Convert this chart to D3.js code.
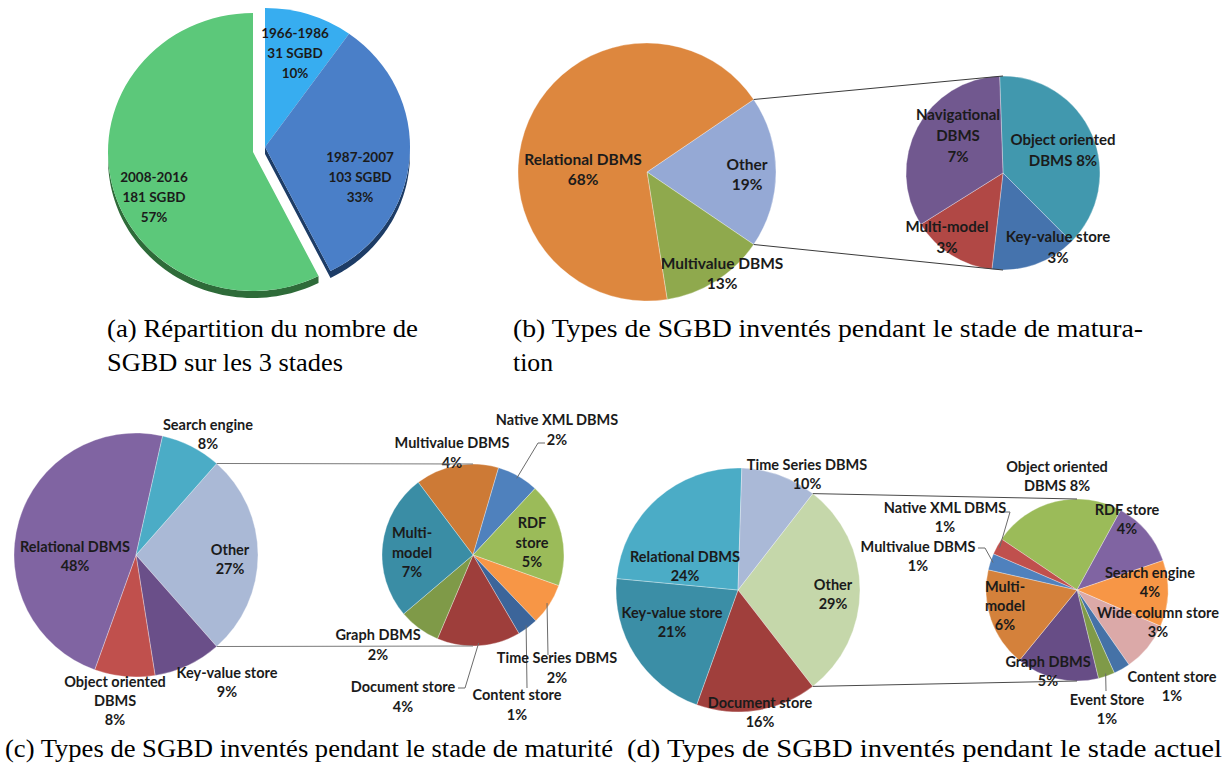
<!DOCTYPE html>
<html>
<head>
<meta charset="utf-8">
<script src="https://cdn.jsdelivr.net/npm/d3@7"></script>
<style>
  body { margin: 0; background: #fff; }
  svg { display: block; }
  .lbl { font-family: Lato, "Open Sans", sans-serif; font-weight: 700; fill: #1b1b1b; }
</style>
</head>
<body>
<svg id="fig" width="1226" height="769"></svg>
<script>
// ---------- data ----------
// (a) number of DBMS per stage
const stageNames = ["1966-1986", "1987-2007", "2008-2016"];
const stageCounts = [31, 103, 181];

// (b) maturation stage (percent of all DBMS of the stage)
const maturationNames = ["Other", "Multivalue DBMS", "Relational DBMS"];
const maturationShares = [19, 13, 68];
const maturationOtherNames = ["Object oriented\nDBMS", "Key-value store", "Multi-model", "Navigational\nDBMS"];
const maturationOtherShares = [8, 3, 3, 7];

// (c) maturity stage
const maturityNames = ["Other", "Key-value store", "Object oriented\nDBMS", "Relational DBMS", "Search engine"];
const maturityShares = [27, 9, 8, 48, 8];
const maturityOtherNames = ["Multivalue DBMS", "Native XML DBMS", "RDF\nstore", "Time Series DBMS",
                            "Content store", "Document store", "Graph DBMS", "Multi-\nmodel"];
const maturityOtherShares = [4, 2, 5, 2, 1, 4, 2, 7];

// (d) current stage
const currentNames = ["Other", "Document store", "Key-value store", "Relational DBMS", "Time Series DBMS"];
const currentShares = [29, 16, 21, 24, 10];
const currentOtherNames = ["Object oriented\nDBMS", "RDF store", "Search engine", "Wide column store",
                           "Content store", "Event Store", "Graph DBMS", "Multi-\nmodel",
                           "Multivalue DBMS", "Native XML DBMS"];
const currentOtherShares = [8, 4, 4, 3, 1, 1, 5, 6, 1, 1];

// sub-figure captions
const captionLines = [
  "(a) Répartition du nombre de",
  "SGBD sur les 3 stades",
  "(b) Types de SGBD inventés pendant le stade de matura-",
  "tion",
  "(c) Types de SGBD inventés pendant le stade de maturité",
  "(d) Types de SGBD inventés pendant le stade actuel"
];

// ---------- styles ----------
const stageColors = ["#37adf0", "#4a7fc8", "#5cc87a"];
const stageSideColors = ["#1f5f86", "#1d3c66", "#2e6b39"];
const maturationColors = ["#95a9d5", "#8fa94d", "#dd873e"];
const maturationOtherColors = ["#4198ae", "#4573ad", "#b14845", "#71588f"];
const maturityColors = ["#aab9d6", "#6a4f89", "#c0504d", "#8064a2", "#4bacc6"];
const maturityOtherColors = ["#cd7a36", "#4f81bd", "#9bbb59", "#f79646", "#3c659a", "#9e3e3b", "#7f9a48", "#3a8da5"];
const currentColors = ["#c5d7aa", "#a03f3c", "#3b8ea6", "#4bacc6", "#aab9d7"];
const currentOtherColors = ["#9bbb59", "#8064a2", "#f79646", "#dba9a8", "#4572a7", "#7f9a48",
                            "#674d86", "#d4813b", "#4f81bd", "#c0504d"];

const svg = d3.select("#fig");
const deg = Math.PI / 180;

// ---------- (a) exploded 3D pie ----------
(function drawStages() {
  const cx = 253, cy = 152, rx = 145, ry = 139, depth = 7;
  const explode = [12, -5];
  const total = d3.sum(stageCounts);
  const arcs = d3.pie().sort(null).value(d => d)(stageCounts);
  const arc = d3.arc().innerRadius(0).outerRadius(rx);
  const k = ry / rx;
  const g = svg.append("g").attr("transform", `translate(${cx},${cy})`);
  const off = i => (i < 2 ? explode : [0, 0]);

  // visible side band of a slice (lower half of the rim), plus the cut face of the exploded part
  function sidePath(d, i) {
    const a0 = Math.max(d.startAngle, 90 * deg), a1 = Math.min(d.endAngle, 270 * deg);
    const p = d3.path();
    if (a1 > a0) {
      const n = 60;
      const pts = d3.range(n + 1).map(j => a0 + (a1 - a0) * j / n);
      pts.forEach((a, j) => {
        const x = rx * Math.sin(a), y = -ry * Math.cos(a);
        j ? p.lineTo(x, y) : p.moveTo(x, y);
      });
      pts.slice().reverse().forEach(a => p.lineTo(rx * Math.sin(a), -ry * Math.cos(a) + depth));
      p.closePath();
    }
    if (i === 1) {
      const a = d.endAngle, x = rx * Math.sin(a), y = -ry * Math.cos(a);
      p.moveTo(0, 0); p.lineTo(x, y); p.lineTo(x, y + depth); p.lineTo(0, depth); p.closePath();
    }
    return p.toString();
  }

  g.selectAll("path.side").data(arcs).join("path")
    .attr("class", "side")
    .attr("transform", (d, i) => `translate(${off(i)[0]},${off(i)[1]})`)
    .attr("d", sidePath)
    .attr("fill", (d, i) => stageSideColors[i]);

  g.selectAll("path.top").data(arcs).join("path")
    .attr("class", "top")
    .attr("transform", (d, i) => `translate(${off(i)[0]},${off(i)[1]}) scale(1,${k})`)
    .attr("d", arc)
    .attr("fill", (d, i) => stageColors[i]);

  const labelPos = [[42, -119], [107, 5], [-99, 25]];
  arcs.forEach((d, i) => {
    const lines = [stageNames[i], `${stageCounts[i]} SGBD`, `${Math.round(100 * stageCounts[i] / total)}%`];
    const t = g.append("text").attr("class", "lbl").attr("text-anchor", "middle").attr("font-size", 13.5);
    lines.forEach((s, j) => t.append("tspan")
      .attr("x", labelPos[i][0]).attr("y", labelPos[i][1] + j * 20).attr("dy", "0.35em").text(s));
  });
})();

// ---------- generic flat pie ----------
function drawPie(cfg) {
  const total = d3.sum(cfg.values);
  const g = svg.append("g").attr("transform", `translate(${cfg.cx},${cfg.cy})`);
  const arcs = d3.pie().sort(null).value(d => d)
    .startAngle(cfg.start).endAngle(cfg.start + 2 * Math.PI)(cfg.values);
  const arc = d3.arc().innerRadius(0).outerRadius(cfg.r);

  g.selectAll("path.slice").data(arcs).join("path")
    .attr("class", "slice")
    .attr("d", arc)
    .attr("fill", (d, i) => cfg.colors[i])
    .attr("stroke", "#fff").attr("stroke-opacity", 0.45).attr("stroke-width", 0.7);

  arcs.forEach((d, i) => {
    const L = cfg.labels[i];
    if (!L.leader) return;
    const mid = (d.startAngle + d.endAngle) / 2;
    const rim = [cfg.r * 0.97 * Math.sin(mid), -cfg.r * 0.97 * Math.cos(mid)];
    g.append("path").attr("d", d3.line()(L.leader.concat([rim])))
      .attr("fill", "none").attr("stroke", "#6b6b6b").attr("stroke-width", 1);
  });

  arcs.forEach((d, i) => {
    const L = cfg.labels[i];
    const lines = cfg.names[i].split("\n");
    const pct = `${cfg.values[i]}%`;
    if (L.inline) lines[lines.length - 1] += " " + pct; else lines.push(pct);
    const t = g.append("text").attr("class", "lbl").attr("text-anchor", "middle").attr("font-size", cfg.fs);
    lines.forEach((s, j) => t.append("tspan")
      .attr("x", L.x).attr("y", L.y + j * cfg.lh).attr("dy", "0.35em").text(s));
  });
  return { arcs, total };
}

// pie of pie: main "Other" slice centred on the right, joined to the secondary pie
function drawPieOfPie(main, second) {
  const total = d3.sum(main.values);
  main.start = Math.PI / 2 - Math.PI * main.values[0] / total;
  const m = drawPie(main);
  drawPie(second);
  const o = m.arcs[0];
  const p0 = [main.cx + main.r * Math.sin(o.startAngle), main.cy - main.r * Math.cos(o.startAngle)];
  const p1 = [main.cx + main.r * Math.sin(o.endAngle), main.cy - main.r * Math.cos(o.endAngle)];
  const q0 = [second.cx, second.cy - second.r];
  const q1 = [second.cx, second.cy + second.r];
  svg.append("path").attr("d", d3.line()([p0, q0])).attr("stroke", main.joinColor).attr("stroke-width", 1).attr("fill", "none");
  svg.append("path").attr("d", d3.line()([p1, q1])).attr("stroke", main.joinColor).attr("stroke-width", 1).attr("fill", "none");
}

// ---------- (b) ----------
drawPieOfPie(
  { cx: 647, cy: 172, r: 129, values: maturationShares, names: maturationNames, colors: maturationColors,
    fs: 15.5, lh: 20, joinColor: "#3a3a3a",
    labels: [{ x: 100, y: -7 }, { x: 75, y: 92 }, { x: -64, y: -12 }] },
  { cx: 1003, cy: 173, r: 97, start: -2 * deg, values: maturationOtherShares, names: maturationOtherNames,
    colors: maturationOtherColors, fs: 15, lh: 21,
    labels: [{ x: 60, y: -33, inline: true }, { x: 55, y: 64 }, { x: -56, y: 54 }, { x: -45, y: -58 }] }
);

// ---------- (c) ----------
drawPieOfPie(
  { cx: 136, cy: 555, r: 122, values: maturityShares, names: maturityNames, colors: maturityColors,
    fs: 14.5, lh: 19, joinColor: "#7a7a7a",
    labels: [{ x: 94, y: -5 }, { x: 91, y: 118 }, { x: -21, y: 127 }, { x: -61, y: -8 }, { x: 72, y: -130 }] },
  { cx: 473, cy: 555, r: 91, start: -37 * deg, values: maturityOtherShares, names: maturityOtherNames,
    colors: maturityOtherColors, fs: 14.5, lh: 19.5,
    labels: [
      { x: -21, y: -112 },
      { x: 84, y: -135, leader: [[72, -112], [65, -112]] },
      { x: 59, y: -32 },
      { x: 84, y: 103, leader: [[75, 100]] },
      { x: 44, y: 140, leader: [[54, 133]] },
      { x: -70, y: 132, leader: [[-15, 133], [-8, 133]] },
      { x: -95, y: 80 },
      { x: -61, y: -22 }
    ] }
);

// ---------- (d) ----------
drawPieOfPie(
  { cx: 738, cy: 590, r: 122, values: currentShares, names: currentNames, colors: currentColors,
    fs: 14.5, lh: 19, joinColor: "#4a4a4a",
    labels: [{ x: 95, y: -5 }, { x: 22, y: 113 }, { x: -66, y: 23 }, { x: -53, y: -33 }, { x: 69, y: -125 }] },
  { cx: 1077, cy: 590, r: 91, start: -56 * deg, values: currentOtherShares, names: currentOtherNames,
    colors: currentOtherColors, fs: 14.5, lh: 19,
    labels: [
      { x: -20, y: -123, inline: true },
      { x: 50, y: -80 },
      { x: 73, y: -17 },
      { x: 81, y: 23 },
      { x: 95, y: 87 },
      { x: 30, y: 110, leader: [[29, 101]] },
      { x: -29, y: 72 },
      { x: -72, y: -3 },
      { x: -159, y: -43, leader: [[-99, -42], [-92, -42]] },
      { x: -132, y: -82, leader: [[-74, -78], [-67, -78]] }
    ] }
);

// ---------- captions ----------
const capLayout = [
  { x: 107, y: 337, w: 311 },
  { x: 107, y: 371, w: 236 },
  { x: 513, y: 337, w: 630 },
  { x: 513, y: 371, w: 40 },
  { x: 5, y: 757, w: 608 },
  { x: 627, y: 757, w: 595 }
];
svg.selectAll("text.cap").data(captionLines).join("text")
  .attr("class", "cap")
  .attr("font-family", "'Liberation Serif'")
  .attr("fill", "#000")
  .attr("x", (d, i) => capLayout[i].x)
  .attr("y", (d, i) => capLayout[i].y)
  .attr("font-size", 26)
  .attr("textLength", (d, i) => capLayout[i].w)
  .attr("lengthAdjust", "spacingAndGlyphs")
  .text(d => d);
</script>
</body>
</html>
